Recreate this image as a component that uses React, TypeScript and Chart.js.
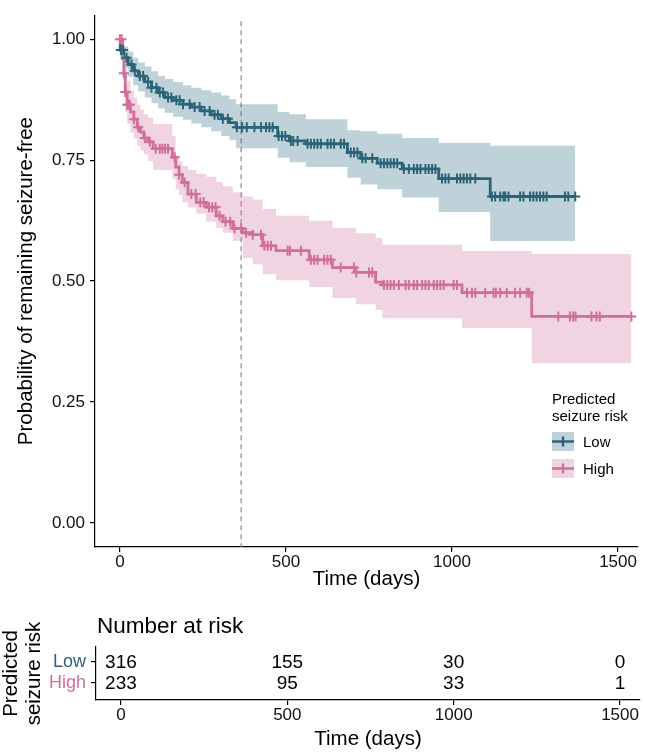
import React, { useEffect, useRef } from 'react';
import { Chart, registerables } from 'chart.js';

Chart.register(...registerables);

const FONT = "'Liberation Sans', Arial, Helvetica, sans-serif";

// ---------- data ----------
const groups = ['Low', 'High'];
const lowColor = '#2A6478';
const highColor = '#D0709A';
const lowBand = 'rgba(46,107,128,0.30)';
const highBand = 'rgba(208,112,154,0.30)';

const lowTime = [0, 1, 12, 25, 40, 55, 75, 95, 115, 135, 160, 190, 215, 245, 275, 305, 330, 350, 475, 510, 560, 685, 725, 775, 850, 960, 1115];
const lowSurv = [1.000, 0.978, 0.962, 0.948, 0.935, 0.924, 0.912, 0.900, 0.890, 0.880, 0.874, 0.866, 0.860, 0.852, 0.844, 0.836, 0.828, 0.818, 0.800, 0.790, 0.784, 0.766, 0.754, 0.744, 0.732, 0.712, 0.675];
const lowLower = [1.000, 0.958, 0.940, 0.922, 0.905, 0.892, 0.880, 0.868, 0.857, 0.848, 0.840, 0.834, 0.826, 0.818, 0.810, 0.800, 0.792, 0.775, 0.755, 0.746, 0.736, 0.714, 0.700, 0.690, 0.673, 0.643, 0.583];
const lowUpper = [1.000, 0.995, 0.985, 0.975, 0.962, 0.952, 0.944, 0.934, 0.925, 0.918, 0.912, 0.905, 0.900, 0.895, 0.890, 0.884, 0.876, 0.866, 0.850, 0.845, 0.835, 0.812, 0.810, 0.805, 0.796, 0.786, 0.780];
const lowEnd = 1371;
const lowCensor = [3, 10, 20, 35, 45, 60, 70, 85, 95, 110, 120, 130, 145, 155, 170, 180, 190, 210, 225, 240, 255, 270, 285, 295, 310, 325, 352, 368, 382, 405, 425, 440, 450, 460, 478, 488, 498, 515, 522, 535, 565, 575, 585, 595, 605, 625, 635, 645, 665, 675, 695, 705, 715, 730, 740, 760, 785, 795, 805, 815, 825, 835, 855, 870, 885, 895, 905, 920, 930, 940, 950, 970, 980, 990, 1015, 1025, 1035, 1045, 1055, 1070, 1120, 1130, 1145, 1155, 1160, 1170, 1205, 1215, 1235, 1245, 1255, 1265, 1275, 1285, 1340, 1350, 1371];

const highTime = [0, 8, 12, 16, 22, 32, 42, 52, 62, 72, 85, 100, 158, 168, 178, 188, 205, 230, 260, 290, 310, 340, 370, 400, 430, 470, 570, 640, 710, 770, 790, 1030, 1240];
const highSurv = [1.000, 0.960, 0.930, 0.891, 0.865, 0.850, 0.835, 0.818, 0.808, 0.796, 0.788, 0.774, 0.756, 0.736, 0.720, 0.704, 0.680, 0.663, 0.653, 0.635, 0.623, 0.609, 0.600, 0.596, 0.573, 0.563, 0.544, 0.528, 0.518, 0.498, 0.492, 0.476, 0.427];
const highLower = [1.000, 0.925, 0.890, 0.850, 0.825, 0.808, 0.795, 0.780, 0.770, 0.762, 0.748, 0.730, 0.712, 0.690, 0.678, 0.663, 0.652, 0.640, 0.623, 0.610, 0.600, 0.583, 0.548, 0.535, 0.514, 0.502, 0.488, 0.465, 0.452, 0.440, 0.423, 0.403, 0.330];
const highUpper = [1.000, 0.990, 0.970, 0.940, 0.915, 0.895, 0.880, 0.865, 0.855, 0.845, 0.838, 0.825, 0.800, 0.760, 0.748, 0.738, 0.730, 0.722, 0.716, 0.705, 0.696, 0.684, 0.675, 0.669, 0.649, 0.635, 0.625, 0.610, 0.599, 0.589, 0.575, 0.5625, 0.556];
const highEnd = 1540;
const highCensor = [0, 5, 12, 16, 18, 22, 25, 30, 42, 55, 75, 90, 108, 120, 128, 136, 145, 165, 178, 195, 215, 228, 242, 252, 268, 278, 288, 300, 318, 332, 345, 365, 380, 400, 425, 435, 445, 455, 505, 512, 545, 575, 585, 595, 615, 625, 635, 665, 705, 712, 750, 760, 795, 805, 815, 825, 840, 860, 870, 885, 895, 910, 920, 930, 945, 955, 965, 975, 1005, 1015, 1045, 1060, 1070, 1100, 1125, 1132, 1145, 1165, 1190, 1205, 1225, 1232, 1320, 1355, 1365, 1372, 1420, 1435, 1445, 1540];

const xTicks = [0, 500, 1000, 1500];
const yTicks = [0, 0.25, 0.5, 0.75, 1];
const yTickLabels = ['0.00', '0.25', '0.50', '0.75', '1.00'];
const landmarkDay = 365;

const riskTimes = [0, 500, 1000, 1500];
const riskLow = [316, 155, 30, 0];
const riskHigh = [233, 95, 33, 1];

// ---------- helpers ----------
function stepPoints(times: number[], vals: number[], end: number) {
  const pts = times.map((t, i) => ({ x: t, y: vals[i] }));
  pts.push({ x: end, y: vals[vals.length - 1] });
  return pts;
}
function valueAt(times: number[], vals: number[], t: number) {
  let v = vals[0];
  for (let i = 0; i < times.length; i++) {
    if (times[i] <= t) v = vals[i];
    else break;
  }
  return v;
}

const X_MIN = -75;
const X_MAX = 1560;
const TICK_SIZE = 17;
const TITLE_SIZE = 20.5;

const axisCommon = (size: number) => ({
  grid: { display: true, drawOnChartArea: false, drawTicks: true, tickLength: 5, color: '#000', lineWidth: 1.2 },
  border: { display: true, color: '#000', width: 1.2 },
  ticks: { font: { size: size, family: FONT }, color: '#111', autoSkip: false, maxRotation: 0 },
});

export default function App() {
  const mainRef = useRef<HTMLCanvasElement>(null);
  const riskRef = useRef<HTMLCanvasElement>(null);

  useEffect(() => {
    Chart.defaults.font.family = FONT;

    const bandDs = (vals: number[], times: number[], end: number, fill: any, bg: string) => ({
      data: stepPoints(times, vals, end),
      stepped: true,
      borderWidth: 0,
      borderColor: 'rgba(0,0,0,0)',
      pointRadius: 0,
      fill,
      backgroundColor: bg,
      order: 5,
    });

    const overlay = {
      id: 'overlay',
      beforeDatasetsDraw(chart: any) {
        const { ctx, chartArea, scales } = chart;
        const px = scales.x.getPixelForValue(landmarkDay);
        ctx.save();
        ctx.setLineDash([5, 4]);
        ctx.strokeStyle = '#8a8a8a';
        ctx.lineWidth = 1.2;
        ctx.beginPath();
        ctx.moveTo(px, chartArea.top + 6);
        ctx.lineTo(px, chartArea.bottom);
        ctx.stroke();
        ctx.restore();
      },
      afterDraw(chart: any) {
        const { ctx } = chart;
        ctx.save();
        ctx.fillStyle = '#000';
        ctx.font = `15px ${FONT}`;
        ctx.textAlign = 'left';
        ctx.textBaseline = 'middle';
        ctx.fillText('Predicted', 552, 400);
        ctx.fillText('seizure risk', 552, 417);
        const keys = [
          { label: groups[0], color: lowColor, band: lowBand, y: 432 },
          { label: groups[1], color: highColor, band: highBand, y: 459 },
        ];
        keys.forEach((k) => {
          ctx.fillStyle = k.band;
          ctx.fillRect(552, k.y, 22, 19);
          ctx.strokeStyle = k.color;
          ctx.lineWidth = 2.4;
          ctx.beginPath();
          ctx.moveTo(552, k.y + 9.5);
          ctx.lineTo(574, k.y + 9.5);
          ctx.moveTo(563, k.y + 4.5);
          ctx.lineTo(563, k.y + 14.5);
          ctx.stroke();
          ctx.fillStyle = '#000';
          ctx.fillText(k.label, 583, k.y + 10.5);
        });
        ctx.restore();
      },
    };

    const main = new Chart(mainRef.current!, {
      type: 'line',
      data: {
        datasets: [
          bandDs(lowUpper, lowTime, lowEnd, '+1', lowBand),
          bandDs(lowLower, lowTime, lowEnd, false, lowBand),
          bandDs(highUpper, highTime, highEnd, '+1', highBand),
          bandDs(highLower, highTime, highEnd, false, highBand),
          {
            data: stepPoints(lowTime, lowSurv, lowEnd),
            stepped: true,
            borderColor: lowColor,
            borderWidth: 2.8,
            pointRadius: 0,
            fill: false,
            order: 3,
          },
          {
            data: stepPoints(highTime, highSurv, highEnd),
            stepped: true,
            borderColor: highColor,
            borderWidth: 2.8,
            pointRadius: 0,
            fill: false,
            order: 2,
          },
          {
            data: lowCensor.map((t) => ({ x: t, y: valueAt(lowTime, lowSurv, t) })),
            showLine: false,
            pointStyle: 'cross',
            pointRadius: 5,
            pointBorderWidth: 2,
            borderColor: lowColor,
            backgroundColor: lowColor,
            order: 1,
          },
          {
            data: highCensor.map((t) => ({ x: t, y: valueAt(highTime, highSurv, t) })),
            showLine: false,
            pointStyle: 'cross',
            pointRadius: 5,
            pointBorderWidth: 2,
            borderColor: highColor,
            backgroundColor: highColor,
            order: 0,
          },
        ] as any,
      },
      options: {
        animation: false,
        responsive: false,
        layout: { padding: { top: 2, right: 5, left: 0, bottom: 0 } },
        plugins: { legend: { display: false }, tooltip: { enabled: false } },
        scales: {
          x: {
            type: 'linear',
            min: X_MIN,
            max: X_MAX,
            ...axisCommon(TICK_SIZE),
            ticks: { ...axisCommon(TICK_SIZE).ticks, padding: 0, callback: (v: any) => String(v) },
            afterBuildTicks: (s: any) => { s.ticks = xTicks.map((v) => ({ value: v })); },
            afterFit: (s: any) => { s.height = 53; },
            title: { display: true, text: 'Time (days)', color: '#000', font: { size: TITLE_SIZE, family: FONT }, padding: { top: 0, bottom: 8 } },
          },
          y: {
            type: 'linear',
            min: -0.05,
            max: 1.05,
            ...axisCommon(TICK_SIZE),
            ticks: { ...axisCommon(TICK_SIZE).ticks, padding: 5, callback: (v: any, i: number) => yTickLabels[i] },
            afterBuildTicks: (s: any) => { s.ticks = yTicks.map((v) => ({ value: v })); },
            afterFit: (s: any) => { s.width = 95; },
            title: { display: true, text: 'Probability of remaining seizure-free', color: '#000', font: { size: TITLE_SIZE, family: FONT }, padding: { top: 14, bottom: 0 } },
          },
        },
      } as any,
      plugins: [overlay],
    });

    const riskPlugin = {
      id: 'riskText',
      afterDraw(chart: any) {
        const { ctx, chartArea } = chart;
        ctx.save();
        ctx.fillStyle = '#000';
        ctx.font = `22.5px ${FONT}`;
        ctx.textAlign = 'left';
        ctx.textBaseline = 'middle';
        ctx.fillText('Number at risk', chartArea.left + 1, 27);
        ctx.font = `19px ${FONT}`;
        ctx.textAlign = 'center';
        chart.data.datasets.forEach((ds: any, di: number) => {
          const meta = chart.getDatasetMeta(di);
          meta.data.forEach((el: any, i: number) => {
            ctx.fillText(String(ds.counts[i]), el.x, el.y + 1);
          });
        });
        ctx.restore();
      },
    };

    const risk = new Chart(riskRef.current!, {
      type: 'line',
      data: {
        datasets: [
          { data: riskTimes.map((t) => ({ x: t, y: 2 })), counts: riskLow, showLine: false, pointRadius: 0 },
          { data: riskTimes.map((t) => ({ x: t, y: 1 })), counts: riskHigh, showLine: false, pointRadius: 0 },
        ] as any,
      },
      options: {
        animation: false,
        responsive: false,
        layout: { padding: { top: 47, right: 5, left: 0, bottom: 0 } },
        plugins: { legend: { display: false }, tooltip: { enabled: false } },
        scales: {
          x: {
            type: 'linear',
            min: X_MIN,
            max: X_MAX,
            ...axisCommon(TICK_SIZE),
            ticks: { ...axisCommon(TICK_SIZE).ticks, padding: 0, callback: (v: any) => String(v) },
            afterBuildTicks: (s: any) => { s.ticks = xTicks.map((v) => ({ value: v })); },
            afterFit: (s: any) => { s.height = 54; },
            title: { display: true, text: 'Time (days)', color: '#000', font: { size: TITLE_SIZE, family: FONT }, padding: { top: 0, bottom: 2 } },
          },
          y: {
            type: 'linear',
            min: 0.19,
            max: 2.714,
            ...axisCommon(18),
            ticks: {
              ...axisCommon(18).ticks,
              padding: 5,
              callback: (v: any) => (v === 2 ? groups[0] : groups[1]),
              color: (c: any) => (c.tick && c.tick.value === 2 ? lowColor : highColor),
            },
            afterBuildTicks: (s: any) => { s.ticks = [{ value: 2 }, { value: 1 }]; },
            afterFit: (s: any) => { s.width = 96; },
            title: { display: true, text: ['Predicted', 'seizure risk'], color: '#000', font: { size: TITLE_SIZE, family: FONT, lineHeight: 1.12 }, padding: { top: 0, bottom: 0 } },
          },
        },
      } as any,
      plugins: [riskPlugin],
    });

    return () => {
      main.destroy();
      risk.destroy();
    };
  }, []);

  return (
    <div style={{ position: 'absolute', left: 0, top: 0, width: 645, height: 754, background: '#fff' }}>
      <canvas ref={mainRef} width={645} height={600} style={{ display: 'block' }} />
      <canvas ref={riskRef} width={645} height={154} style={{ display: 'block' }} />
    </div>
  );
}
